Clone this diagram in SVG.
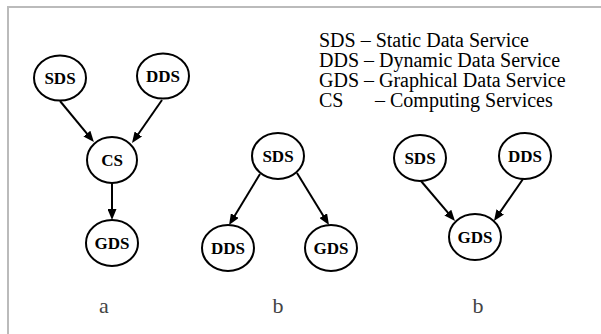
<svg xmlns="http://www.w3.org/2000/svg" width="601" height="334" viewBox="0 0 601 334">
  <style>
    .node ellipse { fill: #ffffff; stroke: #000000; stroke-width: 2; }
    .node text { font-family: "Liberation Serif", "Times New Roman", serif; font-weight: bold; font-size: 17px; text-anchor: middle; fill: #000000; }
    .edge { stroke: #000000; stroke-width: 2; fill: none; marker-end: url(#arrow); }
    .legend { font-family: "Liberation Serif", "Times New Roman", serif; font-size: 20px; fill: #000000; }
    .caption { font-family: "Liberation Serif", "Times New Roman", serif; font-size: 22px; fill: #444444; text-anchor: middle; }
  </style>
  <defs>
    <marker id="arrow" markerUnits="userSpaceOnUse" markerWidth="11" markerHeight="9" refX="3" refY="4.5" orient="auto">
      <path d="M0,0 L11,4.5 L0,9 z" fill="#000000"/>
    </marker>
  </defs>

  <rect width="601" height="334" fill="#ffffff"/>
  <!-- frame: top and left edges only -->
  <path d="M8,334 V7 H601" fill="none" stroke="#bbbbbb" stroke-width="2"/>

  <!-- legend -->
  <g id="legend" class="legend">
    <text x="319" y="47">SDS – Static Data Service</text>
    <text x="319" y="67">DDS – Dynamic Data Service</text>
    <text x="319" y="87">GDS – Graphical Data Service</text>
    <text x="319" y="107">CS</text>
    <text x="375" y="107">– Computing Services</text>
  </g>

  <g id="connectors">
    <!-- a -->
    <line class="edge" x1="60" y1="101" x2="88.8" y2="135.9"/>
    <line class="edge" x1="162" y1="100" x2="136.6" y2="136.5"/>
    <line class="edge" x1="112" y1="183" x2="112" y2="212"/>
    <!-- b -->
    <line class="edge" x1="260" y1="174" x2="233.2" y2="218.2"/>
    <line class="edge" x1="297" y1="173" x2="324.8" y2="218.2"/>
    <!-- c -->
    <line class="edge" x1="421" y1="181" x2="449.8" y2="214.9"/>
    <line class="edge" x1="523" y1="179" x2="498.5" y2="214.4"/>
  </g>

  <!-- diagram a -->
  <g id="a-sds" class="node"><ellipse cx="60" cy="78" rx="26" ry="22.5"/><text x="60" y="84">SDS</text></g>
  <g id="a-dds" class="node"><ellipse cx="163" cy="76" rx="26" ry="22.5"/><text x="163" y="82">DDS</text></g>
  <g id="a-cs" class="node"><ellipse cx="112" cy="160" rx="25" ry="23"/><text x="112" y="166">CS</text></g>
  <g id="a-gds" class="node"><ellipse cx="112" cy="243" rx="26" ry="23"/><text x="112" y="249">GDS</text></g>

  <!-- diagram b -->
  <g id="b-sds" class="node"><ellipse cx="278" cy="156" rx="26" ry="23"/><text x="278" y="162">SDS</text></g>
  <g id="b-dds" class="node"><ellipse cx="228" cy="248" rx="26" ry="23"/><text x="228" y="254">DDS</text></g>
  <g id="b-gds" class="node"><ellipse cx="331" cy="248" rx="26" ry="23"/><text x="331" y="254">GDS</text></g>

  <!-- diagram c -->
  <g id="c-sds" class="node"><ellipse cx="420" cy="158" rx="26" ry="23"/><text x="420" y="164">SDS</text></g>
  <g id="c-dds" class="node"><ellipse cx="525" cy="156" rx="26" ry="23"/><text x="525" y="162">DDS</text></g>
  <g id="c-gds" class="node"><ellipse cx="475" cy="237" rx="26" ry="23"/><text x="475" y="243">GDS</text></g>

  <!-- captions -->
  <text class="caption" x="104" y="313">a</text>
  <text class="caption" x="278" y="313">b</text>
  <text class="caption" x="478" y="313">b</text>
</svg>
